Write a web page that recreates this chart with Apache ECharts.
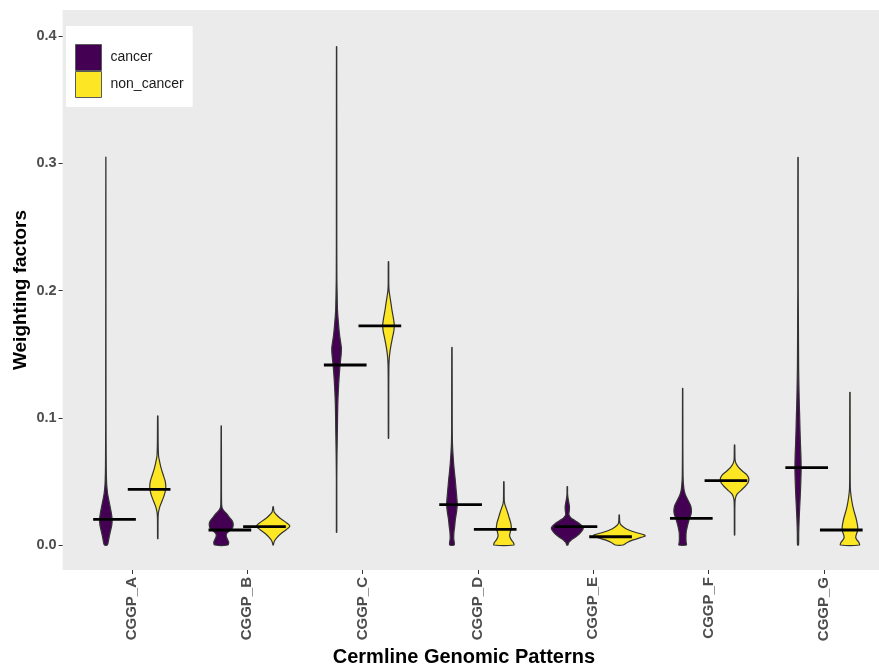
<!DOCTYPE html>
<html>
<head>
<meta charset="utf-8">
<script src="https://cdn.jsdelivr.net/npm/echarts@6/dist/echarts.min.js"></script>
<style>
html,body{margin:0;padding:0;background:#fff;}
#chart{width:879px;height:666px;}
</style>
</head>
<body>
<div id="chart"></div>
<script>
// ---- data ----
const categories = ['CGGP_A','CGGP_B','CGGP_C','CGGP_D','CGGP_E','CGGP_F','CGGP_G'];
const groups = ['cancer','non_cancer'];
const yTicks = [0, 0.1, 0.2, 0.3, 0.4];

// medians (horizontal bars)
const cancerMedian    = [0.0202, 0.0118, 0.1415, 0.0317, 0.0144, 0.0210, 0.0608];
const nonCancerMedian = [0.0438, 0.0144, 0.1722, 0.0123, 0.0065, 0.0506, 0.0118];

// violin profiles: [value, relative density]
const cancerA = [[0,1.5],[0.005,3],[0.01,4.3],[0.015,5.8],[0.02,6.3],[0.025,5.5],[0.03,4.3],[0.035,3],[0.04,1.8],[0.045,1.1],[0.05,0.7],[0.06,0.4],[0.08,0.25],[0.12,0.15],[0.2,0.1],[0.305,0.05]];
const cancerB = [[0,6.5],[0.002,7.5],[0.004,6.5],[0.007,5],[0.009,5.5],[0.011,8],[0.013,11],[0.016,12],[0.019,11],[0.022,8],[0.025,5],[0.027,2.5],[0.029,1],[0.032,0.4],[0.05,0.25],[0.0936,0.15]];
const cancerC = [[0.01,0.2],[0.05,0.2],[0.07,0.4],[0.09,0.8],[0.11,1.2],[0.125,2],[0.14,3.3],[0.15,4.6],[0.155,4.8],[0.165,3],[0.175,1.8],[0.185,0.9],[0.2,0.5],[0.21,0.3],[0.25,0.2],[0.3917,0.15]];
const cancerD = [[0,2.3],[0.005,1.8],[0.01,2],[0.015,2.8],[0.02,3.4],[0.027,4.8],[0.032,5.3],[0.038,4.8],[0.045,4],[0.052,3.2],[0.058,2.4],[0.065,1.6],[0.072,1],[0.08,0.5],[0.09,0.3],[0.1554,0.15]];
const cancerE = [[0,0.5],[0.002,1.5],[0.004,4],[0.006,8],[0.009,12.5],[0.012,15.5],[0.014,15.8],[0.017,12],[0.02,6],[0.022,3],[0.024,1.6],[0.027,2],[0.03,2.2],[0.033,1.6],[0.037,0.7],[0.04,0.3],[0.0459,0.2]];
const cancerF = [[0,3.8],[0.002,3.5],[0.005,3.3],[0.01,3.5],[0.015,4.8],[0.02,6.5],[0.024,8.3],[0.027,8.8],[0.031,8],[0.035,5.5],[0.039,3],[0.043,1.5],[0.048,0.8],[0.054,0.4],[0.08,0.2],[0.1232,0.15]];
const cancerG = [[0,0.5],[0.01,0.7],[0.02,1.1],[0.03,1.7],[0.04,2.3],[0.05,2.8],[0.06,3.1],[0.07,2.9],[0.08,2.4],[0.09,2],[0.1,1.7],[0.11,1.3],[0.12,1],[0.14,0.6],[0.18,0.35],[0.2,0.2],[0.3048,0.15]];

const nonCancerA = [[0.005,0.2],[0.02,0.3],[0.025,0.6],[0.03,2],[0.035,4.5],[0.04,6.8],[0.045,8],[0.05,7.5],[0.055,5.5],[0.06,3.5],[0.065,2],[0.07,0.8],[0.08,0.4],[0.1015,0.2]];
const nonCancerB = [[0,0.2],[0.003,1.2],[0.006,4],[0.009,8],[0.012,13],[0.015,16.7],[0.018,12.5],[0.021,7],[0.024,3],[0.026,1],[0.0301,0.2]];
const nonCancerC = [[0.0839,0.2],[0.12,0.25],[0.14,0.4],[0.147,0.8],[0.152,1.5],[0.157,2.5],[0.163,4],[0.168,5.3],[0.173,5.8],[0.178,5],[0.184,3.6],[0.19,2.5],[0.195,1.5],[0.2,0.6],[0.205,0.3],[0.2227,0.2]];
const nonCancerD = [[0,10],[0.002,9.5],[0.004,7.5],[0.007,5.8],[0.01,6.3],[0.013,7.5],[0.017,7],[0.021,5.5],[0.025,4],[0.029,2.3],[0.032,1],[0.035,0.4],[0.0498,0.2]];
const nonCancerE = [[0,4],[0.002,8],[0.004,14],[0.006,22],[0.007,26],[0.008,25],[0.01,16],[0.012,9],[0.014,4.5],[0.016,1.5],[0.018,0.5],[0.0236,0.2]];
const nonCancerF = [[0.0079,0.2],[0.03,0.3],[0.036,0.7],[0.04,2.5],[0.043,6.5],[0.046,10.5],[0.049,13.5],[0.052,14.3],[0.055,12.5],[0.058,8],[0.061,4],[0.064,1.5],[0.067,0.5],[0.0786,0.2]];
const nonCancerG = [[0,9.5],[0.002,9],[0.004,7],[0.006,5.8],[0.008,6.3],[0.011,7.5],[0.014,7.8],[0.018,7],[0.022,5.8],[0.026,4.3],[0.03,3],[0.035,1.8],[0.04,0.9],[0.045,0.4],[0.06,0.25],[0.12,0.2]];

const cancerViolins = [cancerA, cancerB, cancerC, cancerD, cancerE, cancerF, cancerG];
const nonCancerViolins = [nonCancerA, nonCancerB, nonCancerC, nonCancerD, nonCancerE, nonCancerF, nonCancerG];

// ---- layout / style ----
const COLORS = {cancer: '#440154', non_cancer: '#FDE725'};
const VIOLIN_DODGE = 0.225;
const HALF_MAX = 0.225;
const MED_DODGE = 0.15;
const MED_HALF = 0.185;
const FONT = "'Liberation Sans', Arial, sans-serif";

let maxD = 0;
cancerViolins.concat(nonCancerViolins).forEach(p => p.forEach(([v, d]) => { if (d > maxD) maxD = d; }));

function violinRender(profiles, offset, color) {
  return function (params, api) {
    const i = params.dataIndex;
    const prof = profiles[i];
    const cx = i + 1 + offset;
    const left = [], right = [];
    prof.forEach(([v, d]) => {
      const hw = d / maxD * HALF_MAX;
      left.push(api.coord([cx - hw, v]));
      right.push(api.coord([cx + hw, v]));
    });
    const pts = left.concat(right.reverse());
    return {
      type: 'polygon',
      shape: {points: pts, smooth: 0.25},
      style: {fill: color, stroke: '#333333', lineWidth: 1.2}
    };
  };
}
function medianRender(offset) {
  return function (params, api) {
    const x = api.value(0) + offset;
    const y = api.value(1);
    const p1 = api.coord([x - MED_HALF, y]);
    const p2 = api.coord([x + MED_HALF, y]);
    return {
      type: 'line',
      shape: {x1: p1[0], y1: p1[1], x2: p2[0], y2: p2[1]},
      style: {stroke: '#000', lineWidth: 2.8}
    };
  };
}

const chart = echarts.init(document.getElementById('chart'), null, {renderer: 'canvas'});
const catIdx = categories.map((c, i) => i + 1);

chart.setOption({
  animation: false,
  backgroundColor: '#ffffff',
  grid: {left: 62.6, right: -14.2, top: 10, bottom: 96, show: true, backgroundColor: '#EBEBEB', borderWidth: 0,
         containLabel: false, outerBoundsMode: 'none'},
  legend: {
    data: groups,
    orient: 'vertical',
    left: 66, top: 26,
    backgroundColor: '#ffffff',
    padding: [18, 9, 9, 9],
    itemWidth: 26, itemHeight: 26, itemGap: 0,
    icon: 'rect',
    itemStyle: {borderColor: '#5a5a5a', borderWidth: 1},
    textStyle: {fontFamily: FONT, fontSize: 14, color: '#1a1a1a', padding: [0, 0, 0, 4]}
  },
  xAxis: {
    type: 'value', min: 0.4, max: 7.6,
    name: 'Cermline Genomic Patterns',
    nameLocation: 'middle', nameGap: 77, nameMoveOverlap: false,
    nameTextStyle: {fontFamily: FONT, fontWeight: 'bold', fontSize: 20, color: '#000', padding: [0, 28, 0, 0]},
    axisLine: {show: false, onZero: false},
    splitLine: {show: false},
    axisTick: {show: true, length: 4, lineStyle: {color: '#333'}, customValues: catIdx},
    axisLabel: {
      customValues: catIdx, rotate: 90, margin: 7,
      fontFamily: FONT, fontWeight: 'bold', fontSize: 15, color: '#4D4D4D',
      formatter: v => categories[Math.round(v) - 1] || ''
    }
  },
  yAxis: {
    type: 'value', min: -0.01965, max: 0.4206,
    name: 'Weighting factors',
    nameLocation: 'middle', nameGap: 32, nameMoveOverlap: false,
    nameTextStyle: {fontFamily: FONT, fontWeight: 'bold', fontSize: 19, color: '#000'},
    axisLine: {show: false, onZero: false},
    splitLine: {show: false},
    axisTick: {show: true, length: 4, lineStyle: {color: '#333'}, customValues: yTicks},
    axisLabel: {
      customValues: yTicks, margin: 6,
      fontFamily: FONT, fontWeight: 'bold', fontSize: 14.5, color: '#4D4D4D',
      formatter: v => v.toFixed(1)
    }
  },
  series: [
    {
      name: 'cancer', type: 'custom',
      itemStyle: {color: COLORS.cancer},
      renderItem: violinRender(cancerViolins, -VIOLIN_DODGE, COLORS.cancer),
      data: catIdx.map((x, i) => [x, cancerMedian[i]]), z: 2
    },
    {
      name: 'non_cancer', type: 'custom',
      itemStyle: {color: COLORS.non_cancer},
      renderItem: violinRender(nonCancerViolins, VIOLIN_DODGE, COLORS.non_cancer),
      data: catIdx.map((x, i) => [x, nonCancerMedian[i]]), z: 2
    },
    {
      name: 'cancer median', type: 'custom',
      renderItem: medianRender(-MED_DODGE),
      data: catIdx.map((x, i) => [x, cancerMedian[i]]), z: 3
    },
    {
      name: 'non_cancer median', type: 'custom',
      renderItem: medianRender(MED_DODGE),
      data: catIdx.map((x, i) => [x, nonCancerMedian[i]]), z: 3
    }
  ]
});
</script>
</body>
</html>
